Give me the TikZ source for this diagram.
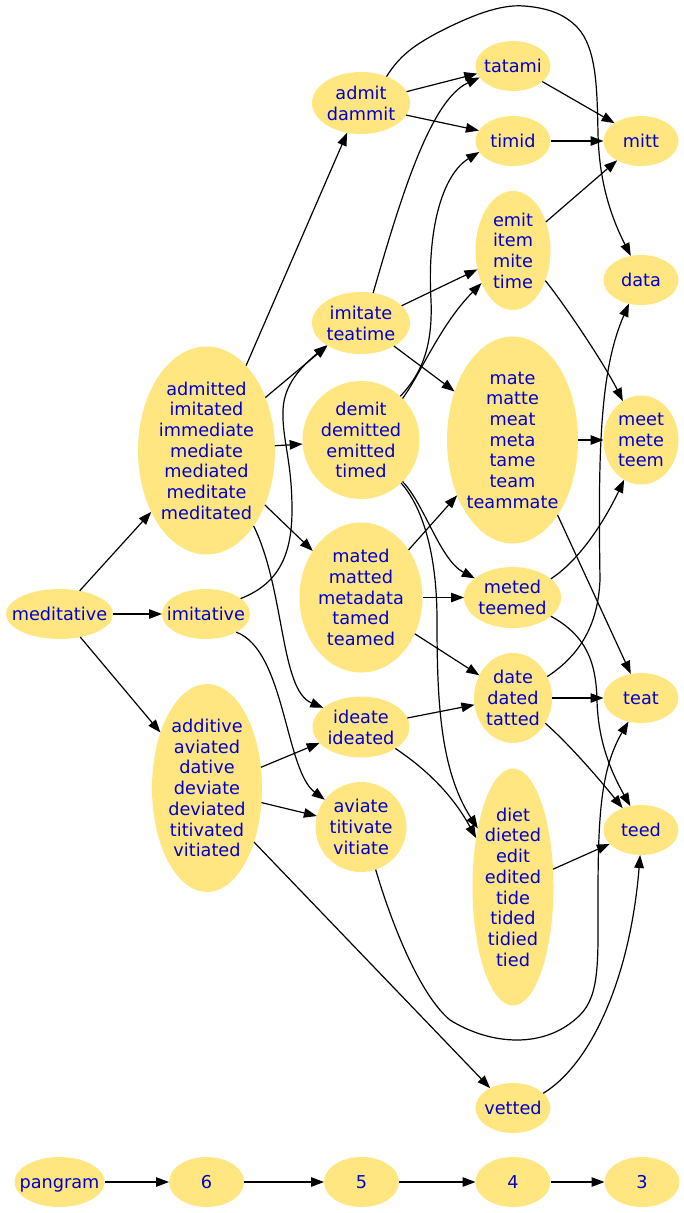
\documentclass[tikz,border=0pt]{standalone}
\usepackage{fontspec}
\setmainfont{DejaVu Sans}
\usetikzlibrary{shapes.geometric,arrows.meta}
\definecolor{nfill}{HTML}{FFE680}
\definecolor{ntext}{HTML}{0000CC}
\newcommand\gvstrut{\rule[-4.1pt]{0pt}{20.7pt}}
\tikzset{
  wn/.style={ellipse, fill=nfill, draw=none, inner sep=0pt, outer sep=0pt},
  lab/.style={text=ntext, align=center, font=\fontsize{17.7}{20.7}\selectfont, inner sep=0pt,
    execute at begin node=\gvstrut, execute at end node=\gvstrut},
  labm/.style={lab, yshift=-2pt},
  conn/.style={draw=black, line width=1.2pt, -{Triangle[length=13pt,width=9.5pt]}},
}
\begin{document}
\begin{tikzpicture}[x=1pt,y=-1pt]
\useasboundingbox (0,0) rectangle (684,1213);
% column 1
\node[wn, minimum width=107pt, minimum height=50pt, label={[lab]center:{meditative}}] (med) at (59.5,614) {};
% column 2
\node[wn, minimum width=88pt, minimum height=50pt, label={[lab]center:{imitative}}] (imi) at (206,614) {};
\node[wn, minimum width=137pt, minimum height=208pt, label={[labm]center:{admitted\\imitated\\immediate\\mediate\\mediated\\meditate\\meditated}}] (adm) at (206.5,450.5) {};
\node[wn, minimum width=110pt, minimum height=208pt, label={[labm]center:{additive\\aviated\\dative\\deviate\\deviated\\titivated\\vitiated}}] (add) at (207,788) {};
% column 3
\node[wn, minimum width=98pt, minimum height=62pt, label={[labm]center:{admit\\dammit}}] (admit) at (361,103) {};
\node[wn, minimum width=98pt, minimum height=62pt, label={[labm]center:{imitate\\teatime}}] (imt) at (361,323) {};
\node[wn, minimum width=117pt, minimum height=118pt, label={[labm]center:{demit\\demitted\\emitted\\timed}}] (demit) at (361,440) {};
\node[wn, minimum width=123pt, minimum height=150pt, label={[labm]center:{mated\\matted\\metadata\\tamed\\teamed}}] (mated) at (361,597.5) {};
\node[wn, minimum width=97pt, minimum height=61pt, label={[labm]center:{ideate\\ideated}}] (ideate) at (361,727) {};
\node[wn, minimum width=91pt, minimum height=90pt, label={[labm]center:{aviate\\titivate\\vitiate}}] (aviate) at (361,827) {};
% column 4
\node[wn, minimum width=75pt, minimum height=50pt, label={[lab]center:{tatami}}] (tatami) at (513,66) {};
\node[wn, minimum width=75pt, minimum height=50pt, label={[lab]center:{timid}}] (timid) at (513,141) {};
\node[wn, minimum width=75pt, minimum height=119pt, label={[labm]center:{emit\\item\\mite\\time}}] (emit) at (513,250.5) {};
\node[wn, minimum width=131pt, minimum height=207pt, label={[labm]center:{mate\\matte\\meat\\meta\\tame\\team\\teammate}}] (mate) at (512.5,440) {};
\node[wn, minimum width=97pt, minimum height=61pt, label={[labm]center:{meted\\teemed}}] (meted) at (512.5,597.5) {};
\node[wn, minimum width=78pt, minimum height=90pt, label={[labm]center:{date\\dated\\tatted}}] (date) at (513,698) {};
\node[wn, minimum width=81pt, minimum height=237pt, label={[labm]center:{diet\\dieted\\edit\\edited\\tide\\tided\\tidied\\tied}}] (diet) at (513,887) {};
\node[wn, minimum width=75pt, minimum height=50pt, label={[lab]center:{vetted}}] (vetted) at (513,1108) {};
% column 5
\node[wn, minimum width=75pt, minimum height=50pt, label={[lab]center:{mitt}}] (mitt) at (641,141) {};
\node[wn, minimum width=75pt, minimum height=50pt, label={[lab]center:{data}}] (data) at (641,280) {};
\node[wn, minimum width=75pt, minimum height=89pt, label={[labm]center:{meet\\mete\\teem}}] (meet) at (641,440) {};
\node[wn, minimum width=75pt, minimum height=50pt, label={[lab]center:{teat}}] (teat) at (641,698) {};
\node[wn, minimum width=75pt, minimum height=50pt, label={[lab]center:{teed}}] (teed) at (641,830) {};
% bottom row
\node[wn, minimum width=90pt, minimum height=50pt, label={[lab]center:{pangram}}] (pangram) at (59.5,1182) {};
\node[wn, minimum width=75pt, minimum height=50pt, label={[lab]center:{6}}] (n6) at (206.5,1182) {};
\node[wn, minimum width=75pt, minimum height=50pt, label={[lab]center:{5}}] (n5) at (361.5,1182) {};
\node[wn, minimum width=75pt, minimum height=50pt, label={[lab]center:{4}}] (n4) at (513,1182) {};
\node[wn, minimum width=75pt, minimum height=50pt, label={[lab]center:{3}}] (n3) at (642,1182) {};

% edges
\draw[conn] (med.49) -- (adm.228);
\draw[conn] (med.0) -- (imi.180);
\draw[conn] (med.-48) -- (add.130);
\draw[conn] (adm.65) -- (admit.245);
\draw[conn] (adm.42) -- (imt.214);
\draw[conn] (adm.4) -- (demit.184);
\draw[conn] (adm.-43) -- (mated.136);
\draw[conn] (adm.-58) .. controls (285,590) and (280,690) .. (ideate.153);
\draw[conn] (imi.24) .. controls (275,585) and (292,560) .. (292,510) .. controls (292,460) and (282,440) .. (283,410) .. controls (284,385) and (300,368) .. (imt.213);
\draw[conn] (imi.-31) .. controls (285,650) and (285,770) .. (aviate.143);
\draw[conn] (add.21) -- (ideate.201);
\draw[conn] (add.-15) -- (aviate.166);
\draw[conn] (add.-49) -- (vetted.139);
\draw[conn] (admit.14) -- (tatami.192);
\draw[conn] (admit.-15) -- (timid.163);
\draw[conn] (admit.46) .. controls (400,55) and (415,45) .. (437,33) .. controls (470,16) and (500,4) .. (524,6) .. controls (550,8) and (565,15) .. (577,27) .. controls (597,48) and (597,90) .. (598,133) .. controls (599,180) and (610,215) .. (data.113);
\draw[conn] (imt.68) .. controls (400,200) and (430,100) .. (tatami.199);
\draw[conn] (imt.23) -- (emit.208);
\draw[conn] (imt.-35) -- (mate.140);
\draw[conn] (demit.48) .. controls (420,375) and (433,350) .. (431,300) .. controls (427,230) and (442,175) .. (timid.198);
\draw[conn] (demit.45) .. controls (420,375) and (440,325) .. (emit.226);
\draw[conn] (demit.-45) .. controls (425,505) and (440,560) .. (meted.153);
\draw[conn] (demit.-47) .. controls (425,510) and (437,560) .. (437,620) .. controls (437,700) and (440,770) .. (diet.121);
\draw[conn] (mated.45) -- (mate.225);
\draw[conn] (mated.0) -- (meted.180);
\draw[conn] (mated.-34) -- (date.146);
\draw[conn] (ideate.11) -- (date.190);
\draw[conn] (ideate.-32) .. controls (420,765) and (450,790) .. (diet.127);
\draw[conn] (aviate.-71) .. controls (392,925) and (420,995) .. (450,1020) .. controls (490,1045) and (545,1050) .. (580,1015) .. controls (600,995) and (598,960) .. (598,900) .. controls (598,820) and (600,770) .. (teat.242);
\draw[conn] (emit.41) -- (mitt.219);
\draw[conn] (emit.-43) .. controls (565,305) and (605,365) .. (meet.115);
\draw[conn] (tatami.-28) -- (mitt.146);
\draw[conn] (timid.0) -- (mitt.180);
\draw[conn] (mate.0) -- (meet.180);
\draw[conn] (mate.-59) -- (teat.113);
\draw[conn] (meted.26) .. controls (580,560) and (605,520) .. (meet.247);
\draw[conn] (meted.-26) .. controls (585,635) and (596,660) .. (597,700) .. controls (598,740) and (610,770) .. (teed.114);
\draw[conn] (date.32) .. controls (580,655) and (598,625) .. (600,580) .. controls (598,450) and (600,370) .. (data.243);
\draw[conn] (date.0) -- (teat.180);
\draw[conn] (date.-38) .. controls (570,745) and (600,780) .. (teed.130);
\draw[conn] (diet.24) -- (teed.204);
\draw[conn] (vetted.26) .. controls (590,1065) and (630,980) .. (teed.268);
\draw[conn] (pangram) -- (n6);
\draw[conn] (n6) -- (n5);
\draw[conn] (n5) -- (n4);
\draw[conn] (n4) -- (n3);
\end{tikzpicture}
\end{document}
